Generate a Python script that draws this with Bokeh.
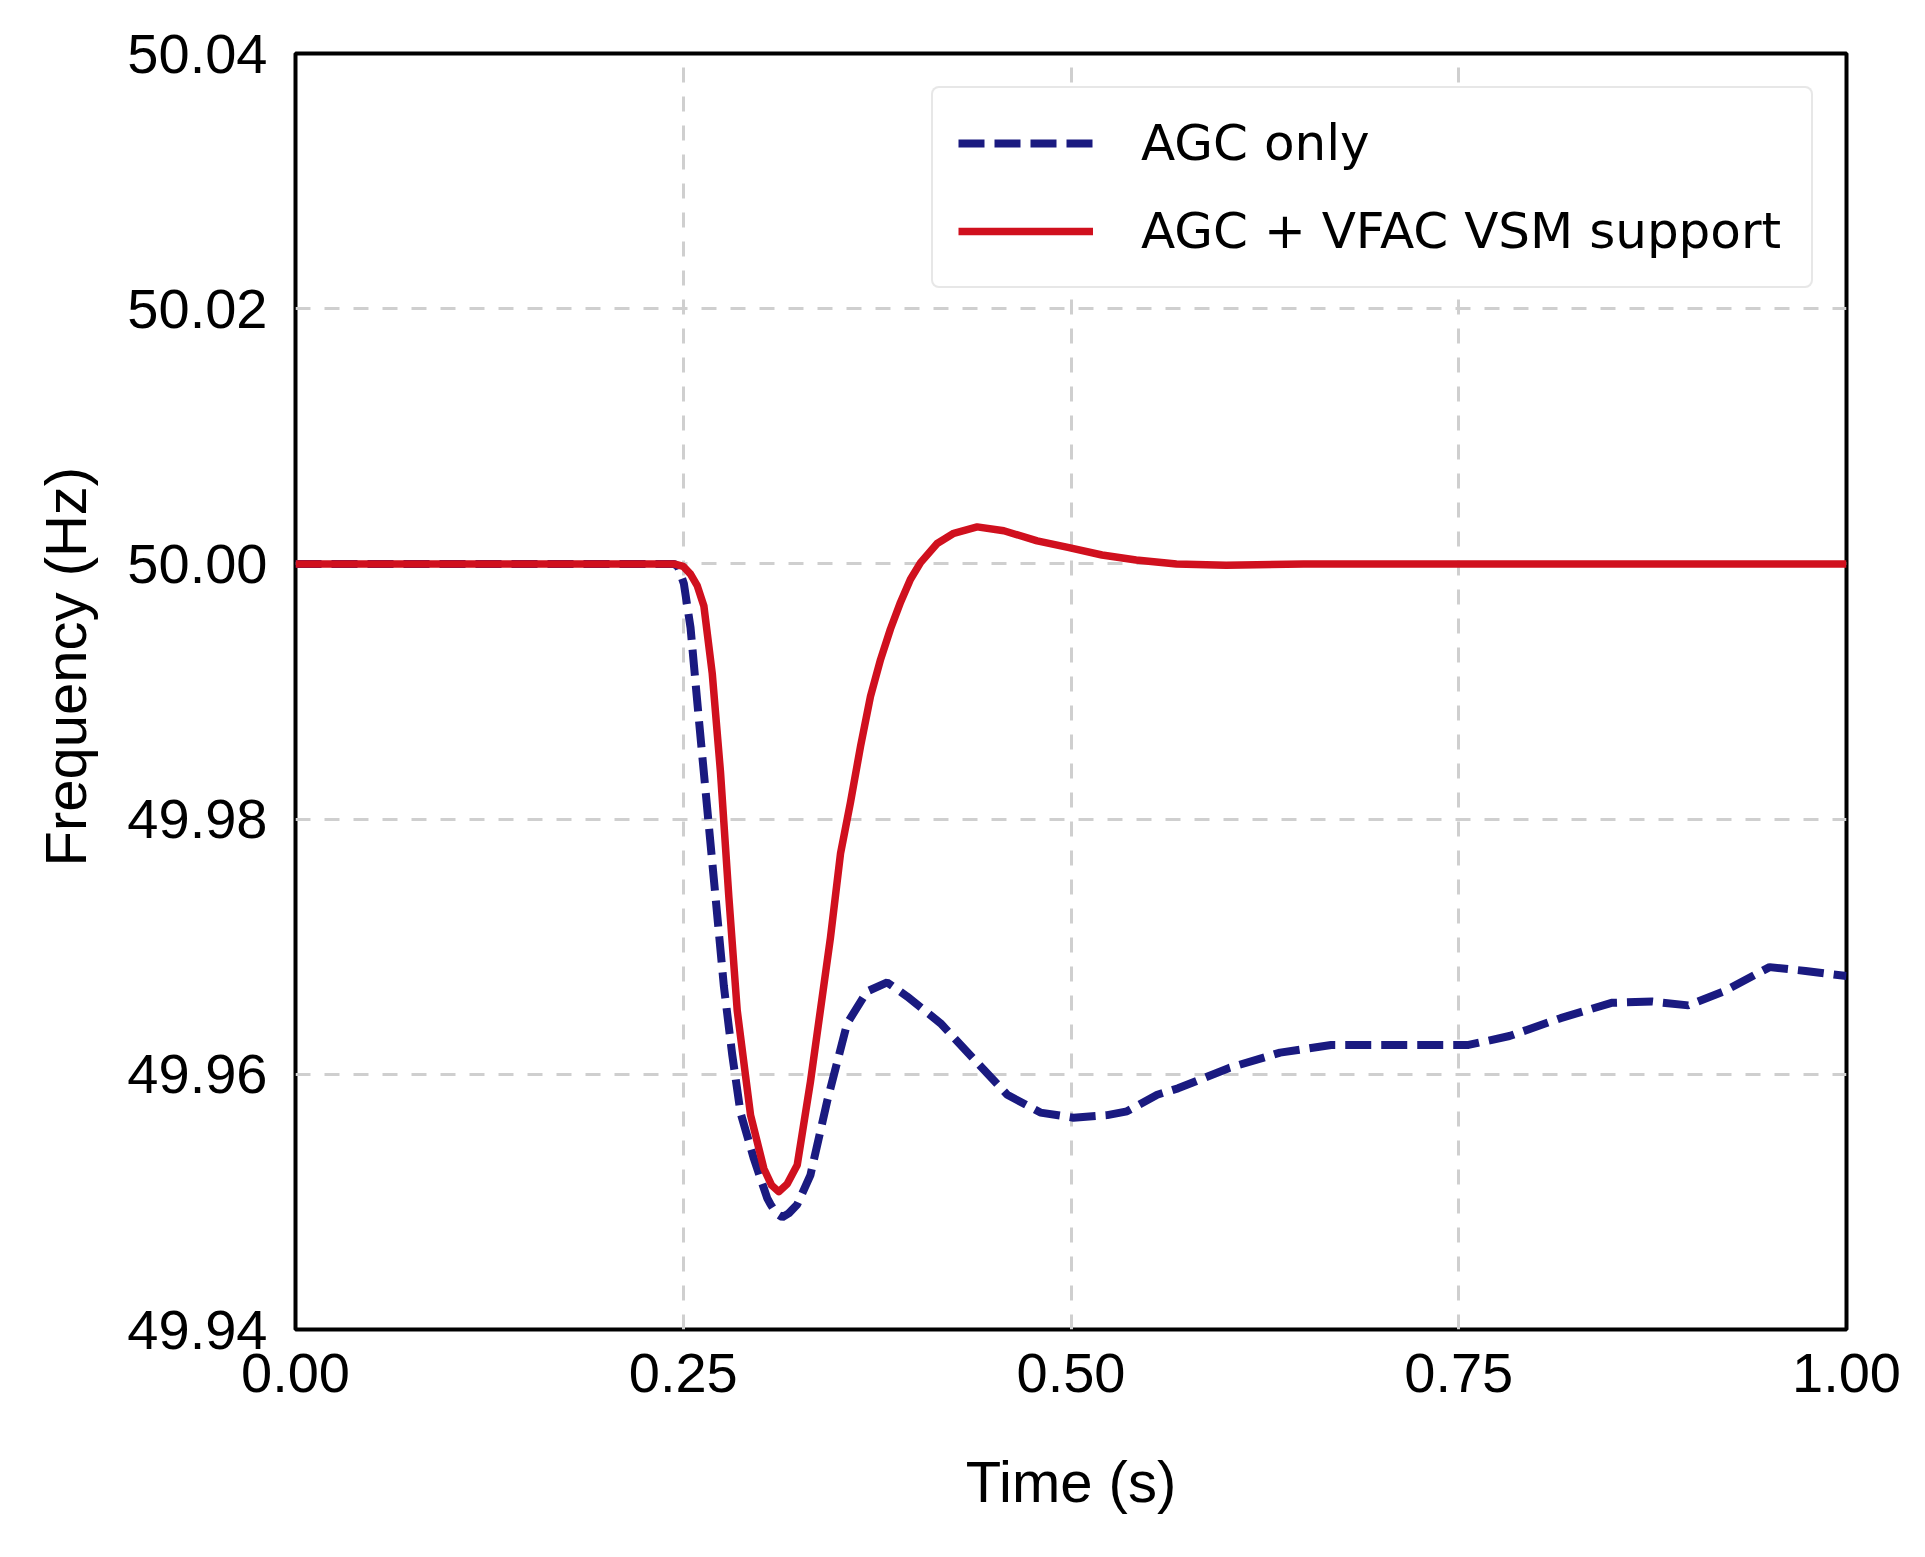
from bokeh.plotting import figure
from bokeh.models import Range1d, FixedTicker, PrintfTickFormatter, Legend, LegendItem, Title
from bokeh.embed import file_html
from bokeh.resources import INLINE

# ---- data ----
x_ticks = [0.00, 0.25, 0.50, 0.75, 1.00]
y_ticks = [49.94, 49.96, 49.98, 50.00, 50.02, 50.04]

t_agc = [0.000, 0.100, 0.200, 0.244, 0.2465, 0.2504, 0.2547, 0.2600, 0.2654, 0.2708,
         0.2762, 0.2815, 0.2869, 0.2955, 0.3041, 0.3063, 0.3100, 0.3138, 0.3180, 0.3235,
         0.3320, 0.3428, 0.3557, 0.3686, 0.3815, 0.3943, 0.4159, 0.4373, 0.4589, 0.4803,
         0.5016, 0.5234, 0.5361, 0.5556, 0.5690, 0.6020, 0.6348, 0.6677, 0.7170, 0.7563,
         0.7827, 0.8157, 0.8485, 0.8749, 0.8980, 0.9210, 0.9504, 0.9736, 1.000]
f_agc = [50.0000, 50.0000, 50.0000, 50.0000, 49.9998, 49.99846, 49.9950, 49.9879, 49.9809, 49.9739,
         49.9669, 49.9616, 49.9570, 49.9534, 49.9503, 49.9498, 49.9491, 49.9488, 49.9491, 49.9498,
         49.9521, 49.9579, 49.9640, 49.9665, 49.9672, 49.9661, 49.9640, 49.9612, 49.9584, 49.9570,
         49.9566, 49.9568, 49.9571, 49.9584, 49.9589, 49.9605, 49.9617, 49.9623, 49.9623, 49.9623,
         49.9630, 49.9644, 49.9656, 49.9657, 49.9654, 49.9665, 49.9684, 49.9681, 49.9677]

t_vsm = [0.000, 0.100, 0.200, 0.244, 0.2500, 0.2547, 0.2590, 0.2633, 0.2687, 0.2740,
         0.2794, 0.2848, 0.2934, 0.3020, 0.3070, 0.3116, 0.3170, 0.3235, 0.3320, 0.3449,
         0.3514, 0.3578, 0.3643, 0.3707, 0.3772, 0.3836, 0.3901, 0.3965, 0.4030, 0.4137,
         0.4244, 0.4395, 0.4567, 0.4782, 0.4980, 0.5200, 0.5420, 0.5680, 0.6000, 0.6500,
         0.7500, 0.8500, 1.000]
f_vsm = [50.0000, 50.0000, 50.0000, 50.0000, 49.9998, 49.9992, 49.9983, 49.9967, 49.9914, 49.9837,
         49.9739, 49.9650, 49.9568, 49.9526, 49.9513, 49.9508, 49.9514, 49.9529, 49.9594, 49.9707,
         49.9773, 49.9813, 49.9857, 49.9896, 49.9925, 49.9949, 49.9970, 49.9988, 50.0001, 50.0016,
         50.0024, 50.0029, 50.0026, 50.0018, 50.0013, 50.0007, 50.0003, 50.0000, 49.9999, 50.0000,
         50.0000, 50.0000, 50.0000]

labels = ["AGC only", "AGC + VFAC VSM support"]
colors = ["#1a1a80", "#d0101e"]
x_title = "Time (s)"
y_title = "Frequency (Hz)"

p = figure(width=1906, height=1533, output_backend="svg", toolbar_location=None,
           x_range=Range1d(0, 1), y_range=Range1d(49.94, 50.04),
           min_border_left=295, min_border_top=53, min_border_right=60, min_border_bottom=204)

p.background_fill_color = "white"
p.border_fill_color = "white"
p.outline_line_color = "black"
p.outline_line_width = 4
p.outline_line_alpha = 1.0

p.xaxis.ticker = FixedTicker(ticks=x_ticks)
p.yaxis.ticker = FixedTicker(ticks=y_ticks)
p.xaxis.formatter = PrintfTickFormatter(format="%.2f")
p.yaxis.formatter = PrintfTickFormatter(format="%.2f")

for ax in (p.xaxis, p.yaxis):
    ax.axis_line_color = None
    ax.major_tick_line_color = None
    ax.minor_tick_line_color = None
    ax.major_label_text_font = "Liberation Sans"
    ax.major_label_text_font_size = "56px"
    ax.major_label_text_color = "black"
    ax.axis_label_text_font = "Liberation Sans"
    ax.axis_label_text_font_size = "58px"
    ax.axis_label_text_font_style = "normal"
    ax.axis_label_text_color = "black"

p.xaxis.axis_label = x_title
p.xaxis.major_label_standoff = 18
p.yaxis.major_label_standoff = 22
p.xaxis.axis_label_standoff = 54

# y-axis title as a side title so it can sit slightly above centre, as in the reference
ytitle = Title(text=y_title, align="left", offset=463, standoff=54,
               text_font="Liberation Sans", text_font_size="58px",
               text_font_style="normal", text_color="black")
p.add_layout(ytitle, "left")

p.xgrid.ticker = FixedTicker(ticks=[0.25, 0.50, 0.75])
p.ygrid.ticker = FixedTicker(ticks=[49.96, 49.98, 50.00, 50.02])
for g in (p.xgrid, p.ygrid):
    g.grid_line_color = "#cfcfcf"
    g.grid_line_width = 3
    g.grid_line_dash = "15 14"

r_agc = p.line(t_agc, f_agc, line_color=colors[0], line_width=8, line_dash="26 10")
r_vsm = p.line(t_vsm, f_vsm, line_color=colors[1], line_width=7.5, line_join="round")

legend = Legend(items=[LegendItem(label=labels[0], renderers=[r_agc]),
                       LegendItem(label=labels[1], renderers=[r_vsm])],
                location="top_right", margin=33, padding=25, spacing=28,
                glyph_width=135, glyph_height=60, label_height=60, label_width=645,
                label_standoff=48, label_text_font="DejaVu Sans",
                label_text_font_size="50px", label_text_color="black",
                border_line_color="#d0d0d0", border_line_width=2,
                background_fill_color="white", background_fill_alpha=1.0)
if "border_radius" in Legend.properties():
    legend.border_radius = 8
p.add_layout(legend)

open("out.html", "w").write(file_html(p, INLINE))
